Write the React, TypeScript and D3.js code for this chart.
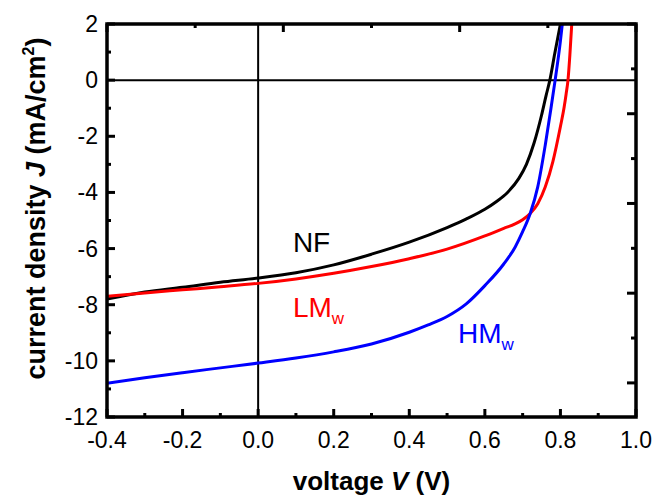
import React, { useEffect, useRef } from 'react';
import * as d3 from 'd3';

// J-V curves (V in volts, J in mA/cm2)
const nfV = [-0.4, -0.3, -0.2, -0.1, 0, 0.1, 0.2, 0.3, 0.4, 0.5, 0.55, 0.6, 0.63, 0.66, 0.69, 0.71, 0.73, 0.75, 0.762, 0.772, 0.785, 0.8];
const nfJ = [-7.8, -7.55, -7.38, -7.2, -7.05, -6.86, -6.58, -6.2, -5.77, -5.25, -4.95, -4.6, -4.33, -4.0, -3.5, -3.0, -2.25, -1.25, -0.55, 0, 0.95, 2];

const lmV = [-0.4, -0.3, -0.2, -0.1, 0, 0.1, 0.2, 0.3, 0.4, 0.5, 0.6, 0.65, 0.68, 0.7, 0.72, 0.74, 0.76, 0.78, 0.8, 0.81, 0.815, 0.82, 0.825, 0.83];
const lmJ = [-7.7, -7.58, -7.47, -7.36, -7.24, -7.08, -6.88, -6.64, -6.36, -6.02, -5.55, -5.28, -5.12, -4.97, -4.75, -4.4, -3.8, -2.9, -1.65, -0.95, -0.5, 0, 0.9, 2];

const hmV = [-0.4, -0.3, -0.2, -0.1, 0, 0.1, 0.2, 0.3, 0.4, 0.45, 0.5, 0.55, 0.6, 0.65, 0.68, 0.7, 0.72, 0.74, 0.76, 0.775, 0.786, 0.8, 0.805];
const hmJ = [-10.8, -10.6, -10.42, -10.25, -10.08, -9.9, -9.68, -9.4, -8.98, -8.72, -8.42, -7.98, -7.32, -6.55, -5.95, -5.4, -4.75, -3.8, -2.3, -1.0, 0, 1.4, 2];

const xTicks = [-0.4, -0.2, 0, 0.2, 0.4, 0.6, 0.8, 1.0];
const xMinor = [-0.3, -0.1, 0.1, 0.3, 0.5, 0.7, 0.9];
const yTicks = [2, 0, -2, -4, -6, -8, -10, -12];
const yMinor = [1, -1, -3, -5, -7, -9, -11];

// curve labels: text, subscript, colour, anchor (V, J)
const labelText = ['NF', 'LM', 'HM'];
const labelSub = ['', 'w', 'w'];
const labelColor = ['#000000', '#ff0000', '#0000ff'];
const labelV = [0.092, 0.092, 0.529];
const labelJ = [-6.13, -8.45, -9.37];

const FONT = '"Liberation Sans", Arial, Helvetica, sans-serif';

const App = () => {
  const ref = useRef<SVGSVGElement>(null);

  useEffect(() => {
    const W = 656, H = 497;
    const left = 107, right = 636, top = 24, bottom = 417;

    const svg = d3.select(ref.current).attr('width', W).attr('height', H);
    svg.selectAll('*').remove();

    const x = d3.scaleLinear().domain([-0.4, 1.0]).range([left, right]);
    const y = d3.scaleLinear().domain([-12, 2]).range([bottom, top]);
    // mirrored axes on top/right carry their own tick spacing
    const xTop = d3.scaleLinear().domain([0, 6]).range([left, right]);
    const yRight = d3.scaleLinear().domain([0, 8.76]).range([top, bottom]);

    svg.append('defs').append('clipPath').attr('id', 'plotclip')
      .append('rect').attr('x', left).attr('y', top)
      .attr('width', right - left).attr('height', bottom - top);

    // zero lines
    svg.append('line')
      .attr('x1', left).attr('x2', right).attr('y1', y(0)).attr('y2', y(0))
      .attr('stroke', '#000').attr('stroke-width', 2);
    svg.append('line')
      .attr('x1', x(0)).attr('x2', x(0)).attr('y1', top).attr('y2', bottom)
      .attr('stroke', '#000').attr('stroke-width', 2);

    // curves
    const line = d3.line<[number, number]>()
      .x(d => x(d[0]))
      .y(d => y(d[1]))
      .curve(d3.curveMonotoneX);

    const curves = [
      { v: nfV, j: nfJ, color: '#000000' },
      { v: lmV, j: lmJ, color: '#ff0000' },
      { v: hmV, j: hmJ, color: '#0000ff' },
    ];
    const g = svg.append('g').attr('clip-path', 'url(#plotclip)');
    curves.forEach(c => {
      g.append('path')
        .datum(c.v.map((v, i) => [v, c.j[i]] as [number, number]))
        .attr('d', line)
        .attr('fill', 'none')
        .attr('stroke', c.color)
        .attr('stroke-width', 3)
        .attr('stroke-linejoin', 'round');
    });

    // frame
    svg.append('rect')
      .attr('x', left).attr('y', top)
      .attr('width', right - left).attr('height', bottom - top)
      .attr('fill', 'none').attr('stroke', '#000').attr('stroke-width', 3.5);

    const ticks = svg.append('g').attr('stroke', '#000').attr('stroke-width', 3);
    // bottom
    xTicks.forEach(d => ticks.append('line').attr('x1', x(d)).attr('x2', x(d)).attr('y1', bottom).attr('y2', bottom - 8));
    xMinor.forEach(d => ticks.append('line').attr('x1', x(d)).attr('x2', x(d)).attr('y1', bottom).attr('y2', bottom - 4));
    // left
    yTicks.forEach(d => ticks.append('line').attr('x1', left).attr('x2', left + 8).attr('y1', y(d)).attr('y2', y(d)));
    yMinor.forEach(d => ticks.append('line').attr('x1', left).attr('x2', left + 4).attr('y1', y(d)).attr('y2', y(d)));
    // top
    xTop.ticks(6).forEach(d => {
      const len = d % 2 === 0 ? 8 : 4;
      ticks.append('line').attr('x1', xTop(d)).attr('x2', xTop(d)).attr('y1', top).attr('y2', top + len);
    });
    // right
    d3.range(0, 9).forEach(d => {
      const len = d % 2 === 0 ? 9 : 5;
      ticks.append('line').attr('x1', right).attr('x2', right - len).attr('y1', yRight(d)).attr('y2', yRight(d));
    });

    // tick labels
    svg.append('g').selectAll('text')
      .data(xTicks).enter().append('text')
      .attr('x', d => x(d)).attr('y', bottom + 31)
      .attr('text-anchor', 'middle')
      .attr('font-family', FONT).attr('font-size', 23)
      .text(d => d.toFixed(1));

    svg.append('g').selectAll('text')
      .data(yTicks).enter().append('text')
      .attr('x', left - 9).attr('y', d => y(d) + 8)
      .attr('text-anchor', 'end')
      .attr('font-family', FONT).attr('font-size', 23)
      .text(d => String(d));

    // axis titles
    const xt = svg.append('text')
      .attr('x', (left + right) / 2).attr('y', 490)
      .attr('text-anchor', 'middle')
      .attr('font-family', FONT).attr('font-size', 26).attr('font-weight', 'bold');
    xt.append('tspan').text('voltage ');
    xt.append('tspan').attr('font-style', 'italic').text('V');
    xt.append('tspan').text(' (V)');

    const yt = svg.append('text')
      .attr('transform', `translate(45,${(top + bottom) / 2 - 12}) rotate(-90)`)
      .attr('text-anchor', 'middle')
      .attr('font-family', FONT).attr('font-size', 27).attr('font-weight', 'bold');
    yt.append('tspan').text('current density ');
    yt.append('tspan').attr('font-style', 'italic').text('J');
    yt.append('tspan').text(' (mA/cm');
    yt.append('tspan').attr('font-size', 16).attr('dy', -11).text('2');
    yt.append('tspan').attr('dy', 11).text(')');

    // curve labels
    labelText.forEach((t, i) => {
      const tx = svg.append('text')
        .attr('x', x(labelV[i])).attr('y', y(labelJ[i]))
        .attr('font-family', FONT).attr('font-size', 28)
        .attr('fill', labelColor[i]);
      tx.append('tspan').text(t);
      if (labelSub[i]) {
        tx.append('tspan').attr('font-size', 17).attr('dy', 7).text(labelSub[i]);
      }
    });
  }, []);

  return (
    <div style={{ position: 'absolute', left: 0, top: 0, background: '#fff' }}>
      <svg ref={ref} style={{ display: 'block' }}></svg>
    </div>
  );
};

export default App;
